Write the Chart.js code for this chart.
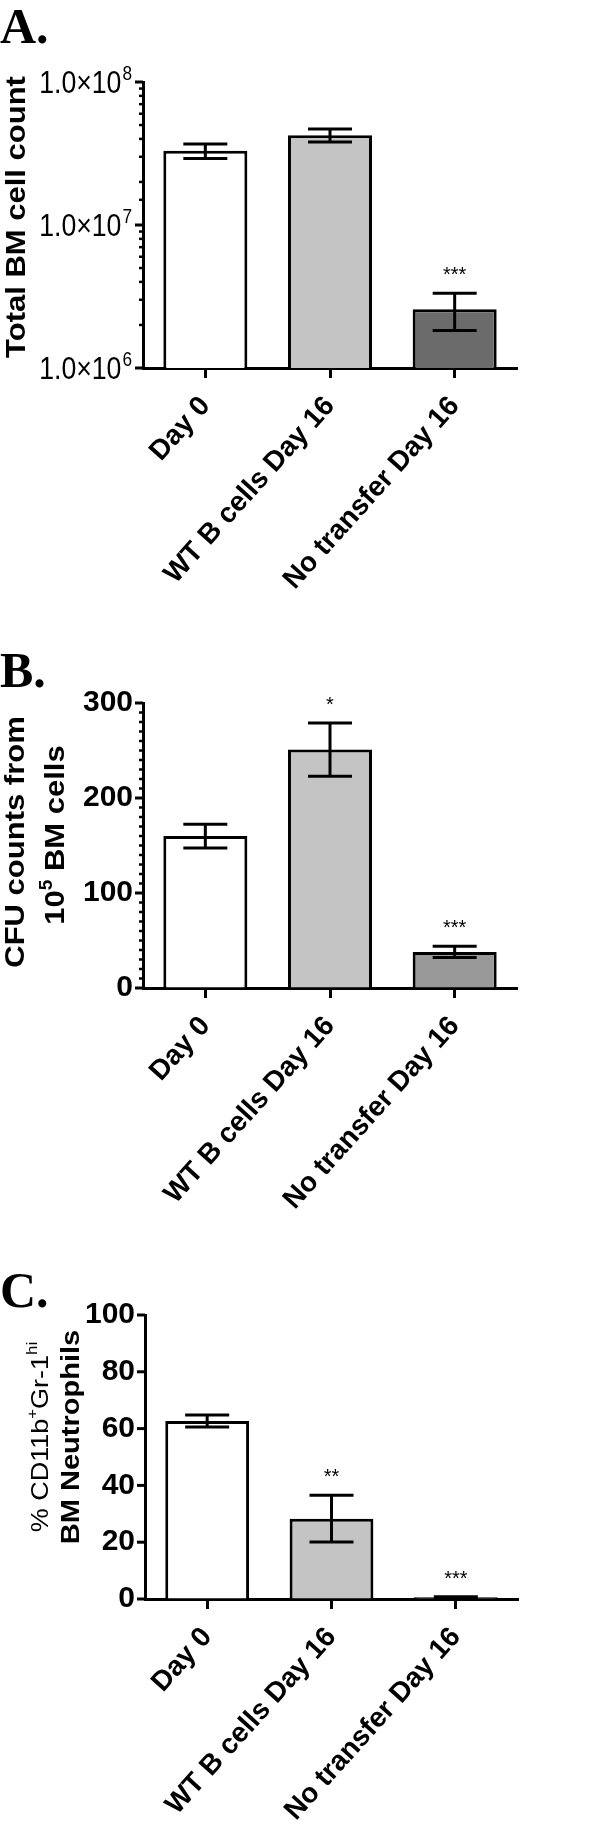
<!DOCTYPE html>
<html><head><meta charset="utf-8">
<script src="https://cdn.jsdelivr.net/npm/chart.js@4.4.1/dist/chart.umd.min.js"></script>
<style>
html,body{margin:0;padding:0;background:#fff;}
body{width:600px;height:1835px;position:relative;overflow:hidden;}
.p{position:absolute;left:0;width:600px;}
canvas{display:block;}
</style></head><body>
<div class="p" style="top:0;height:620px"><canvas id="cA"></canvas></div>
<div class="p" style="top:620px;height:640px"><canvas id="cB"></canvas></div>
<div class="p" style="top:1260px;height:575px"><canvas id="cC"></canvas></div>
<script>
// ---- data ----
const categories = ['Day 0', 'WT B cells Day 16', 'No transfer Day 16'];

const totalBM = [3.3e7, 4.25e7, 2.58e6];
const totalBMErr = [3.8e6, 4.4e6, 7.5e5];
const totalBMSig = ['', '', '***'];
const totalBMExponents = [6, 7, 8];

const cfu = [160, 251, 38];
const cfuErr = [12.5, 28, 6];
const cfuSig = ['', '*', '***'];
const cfuTicks = [0, 100, 200, 300];

const neut = [62.7, 28.3, 0.6];
const neutErr = [2.1, 8.2, 0.2];
const neutSig = ['', '**', '***'];
const neutTicks = [0, 20, 40, 60, 80, 100];

const colorsA = ['#ffffff', '#c4c4c4', '#6b6b6b'];
const colorsB = ['#ffffff', '#c4c4c4', '#999999'];
const colorsC = ['#ffffff', '#c4c4c4', '#999999'];

// ---- helpers ----
const SANS = "'Liberation Sans', Arial, sans-serif";
const NARROW = "'Liberation Sans Narrow', 'Arial Narrow', 'Liberation Sans', Arial, sans-serif";
Chart.defaults.font.family = SANS;
Chart.defaults.color = '#000';
Chart.defaults.animation = false;

function drawRuns(ctx, runs, cx, cy, rot, sx) {
  ctx.save();
  ctx.translate(cx, cy);
  ctx.rotate(rot);
  if (sx) ctx.scale(1, sx);
  ctx.fillStyle = '#000';
  ctx.textBaseline = 'alphabetic';
  ctx.textAlign = 'left';
  let total = 0;
  runs.forEach(r => { ctx.font = r.font; r.w = ctx.measureText(r.text).width; total += r.w; });
  let x = -total / 2;
  runs.forEach(r => { ctx.font = r.font; ctx.fillText(r.text, x, r.dy); x += r.w; });
  ctx.restore();
}

function makePanel(p) {
  const canvas = document.getElementById(p.id);
  canvas.width = 600; canvas.height = p.H;
  const area = p.area;
  const extras = {
    id: 'extras_' + p.id,
    afterDatasetsDraw(chart) {
      const ctx = chart.ctx, ys = chart.scales.y;
      const meta = chart.getDatasetMeta(0);
      ctx.save();
      ctx.strokeStyle = '#000'; ctx.lineWidth = 3; ctx.lineCap = 'butt';
      meta.data.forEach((bar, i) => {
        const v = p.values[i], e = p.errors[i];
        const yt = ys.getPixelForValue(v + e);
        const yb = ys.getPixelForValue(Math.max(v - e, ys.min));
        const half = 22;
        ctx.beginPath();
        ctx.moveTo(bar.x, yt); ctx.lineTo(bar.x, yb);
        ctx.moveTo(bar.x - half, yt); ctx.lineTo(bar.x + half, yt);
        ctx.moveTo(bar.x - half, yb); ctx.lineTo(bar.x + half, yb);
        ctx.stroke();
        if (p.sig[i]) {
          ctx.fillStyle = '#000';
          ctx.font = '20px ' + SANS;
          ctx.textAlign = 'center';
          ctx.textBaseline = 'alphabetic';
          ctx.fillText(p.sig[i], bar.x, yt - 12);
        }
      });
      ctx.restore();
    },
    afterDraw(chart) {
      const ctx = chart.ctx, ys = chart.scales.y;
      const left = chart.chartArea.left;
      ctx.save();
      ctx.strokeStyle = '#000';
      ys.ticks.forEach(t => {
        const y = ys.getPixelForValue(t.value);
        const major = p.isMajor(t.value);
        const len = major ? 8 : 4;
        ctx.lineWidth = major ? 3 : 2.5;
        ctx.beginPath();
        ctx.moveTo(left - len, y); ctx.lineTo(left, y);
        ctx.stroke();
      });
      if (p.customLabels) p.customLabels(ctx, ys, left);
      p.title(ctx);
      ctx.fillStyle = '#000';
      ctx.font = 'bold 50px "Liberation Serif", "Times New Roman", serif';
      ctx.textAlign = 'left';
      ctx.textBaseline = 'alphabetic';
      ctx.fillText(p.letter, 0, p.letterBaseline);
      ctx.restore();
    }
  };
  return new Chart(canvas, {
    type: 'bar',
    data: {
      labels: categories,
      datasets: [{
        data: p.values,
        backgroundColor: p.colors,
        borderColor: '#000',
        borderWidth: 3,
        barPercentage: 0.674,
        categoryPercentage: 1.0
      }]
    },
    options: {
      responsive: false,
      devicePixelRatio: 1,
      animation: false,
      layout: { padding: { left: 0, right: 600 - area.right, top: area.top, bottom: 0 } },
      plugins: { legend: { display: false }, tooltip: { enabled: false } },
      scales: {
        x: {
          offset: true,
          grid: { display: true, drawOnChartArea: false, offset: false, drawTicks: true, tickLength: 10, tickWidth: 3, tickColor: '#000' },
          border: { display: true, color: '#000', width: 3 },
          ticks: { minRotation: 48, maxRotation: 48, autoSkip: false, color: '#000', padding: 12,
                   font: { family: SANS, weight: 'bold', size: 28 } },
          afterFit(s) { s.height = p.H - area.bottom; s.paddingLeft = 0; s.paddingRight = 0; }
        },
        y: Object.assign({
          grid: { display: true, drawOnChartArea: false, drawTicks: true, tickLength: 8, tickColor: 'rgba(0,0,0,0)' },
          border: { display: true, color: '#000', width: 3 },
          afterFit(s) { s.width = area.left; s.paddingTop = 0; s.paddingBottom = 0; }
        }, p.yScale)
      }
    },
    plugins: [extras]
  });
}

// ---- Panel A ----
makePanel({
  id: 'cA', H: 620, area: { top: 82, bottom: 368, left: 143, right: 517 },
  values: totalBM, errors: totalBMErr, sig: totalBMSig, colors: colorsA,
  letter: 'A.', letterBaseline: 43,
  yScale: { type: 'logarithmic', min: 1e6, max: 1e8,
            ticks: { autoSkip: false, callback: () => '' } },
  isMajor: v => totalBMExponents.some(e => Math.abs(v - Math.pow(10, e)) < 1),
  customLabels(ctx, ys, left) {
    totalBMExponents.forEach(e => {
      const y = ys.getPixelForValue(Math.pow(10, e));
      const main = '1.0\u00d710', sup = String(e);
      const sx = 0.86;
      ctx.save();
      ctx.fillStyle = '#000';
      ctx.textBaseline = 'alphabetic';
      ctx.textAlign = 'left';
      ctx.font = '20px ' + SANS;
      const ws = ctx.measureText(sup).width * sx;
      ctx.font = '31px ' + SANS;
      const wm = ctx.measureText(main).width * sx;
      const xr = left - 11;
      ctx.translate(xr - ws - wm - 1, 0);
      ctx.scale(sx, 1);
      ctx.fillText(main, 0, y + 11);
      ctx.font = '20px ' + SANS;
      ctx.fillText(sup, (wm + 1) / sx, y - 2);
      ctx.restore();
    });
  },
  title(ctx) {
    drawRuns(ctx, [{ text: 'Total BM cell count', font: 'bold 31px ' + SANS, dy: 10 }], 16, 217, -Math.PI / 2, 0.92);
  }
});

// ---- Panel B ----
makePanel({
  id: 'cB', H: 640, area: { top: 83, bottom: 368, left: 143, right: 517 },
  values: cfu, errors: cfuErr, sig: cfuSig, colors: colorsB,
  letter: 'B.', letterBaseline: 67,
  yScale: { type: 'linear', min: 0, max: 300,
            ticks: { stepSize: 10, maxTicksLimit: 100, autoSkip: false, padding: 2,
                     font: { family: NARROW, weight: 'bold', size: 30 },
                     callback: v => cfuTicks.includes(v) ? String(v) : '' } },
  isMajor: v => cfuTicks.includes(v),
  title(ctx) {
    drawRuns(ctx, [{ text: 'CFU counts from', font: 'bold 31px ' + SANS, dy: 10 }], 15, 222, -Math.PI / 2, 0.92);
    drawRuns(ctx, [
      { text: '10', font: 'bold 31px ' + SANS, dy: 10 },
      { text: '5', font: 'bold 19px ' + SANS, dy: -3 },
      { text: ' BM cells', font: 'bold 31px ' + SANS, dy: 10 }
    ], 55, 215, -Math.PI / 2, 0.92);
  }
});

// ---- Panel C ----
makePanel({
  id: 'cC', H: 575, area: { top: 55, bottom: 339, left: 145, right: 518 },
  values: neut, errors: neutErr, sig: neutSig, colors: colorsC,
  letter: 'C.', letterBaseline: 47,
  yScale: { type: 'linear', min: 0, max: 100,
            ticks: { stepSize: 20, autoSkip: false, padding: 2,
                     font: { family: NARROW, weight: 'bold', size: 30 },
                     callback: v => neutTicks.includes(v) ? String(v) : '' } },
  isMajor: v => true,
  title(ctx) {
    drawRuns(ctx, [
      { text: '% CD11b', font: '27px ' + SANS, dy: 8 },
      { text: '+', font: '17px ' + SANS, dy: -4 },
      { text: 'Gr-1', font: '27px ' + SANS, dy: 8 },
      { text: 'hi', font: '17px ' + SANS, dy: -4 }
    ], 41, 177, -Math.PI / 2, 0.9);
    drawRuns(ctx, [{ text: 'BM Neutrophils', font: 'bold 29px ' + SANS, dy: 9 }], 71, 177, -Math.PI / 2, 0.9);
  }
});
</script>
</body></html>
